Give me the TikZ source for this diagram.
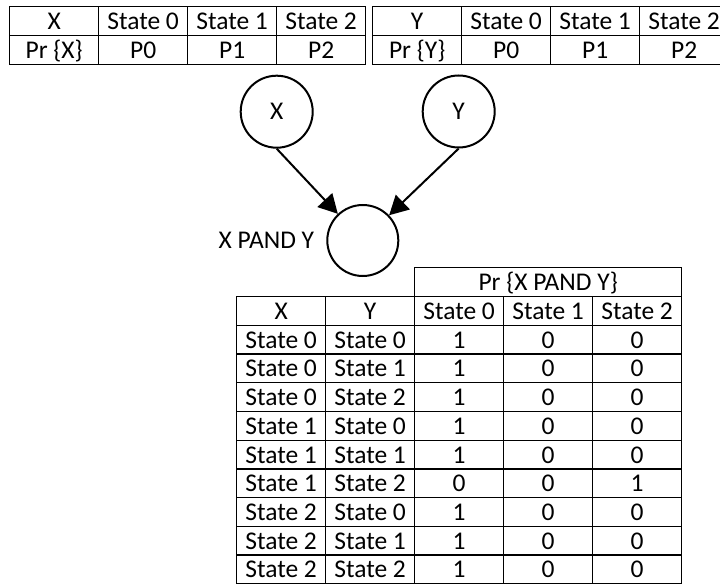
\documentclass[tikz,border=0pt]{standalone}
\usepackage{fontspec}
\setmainfont{Carlito}
\usetikzlibrary{positioning,matrix,arrows.meta}
\tikzset{
    cell/.style={draw,line width=1.3pt,minimum width=\cw,minimum height=29pt,inner sep=0pt,outer sep=0pt,anchor=center,text height=18pt,text depth=1pt},
    tab/.style={matrix of nodes,nodes={cell},column sep=-1.3pt,row sep=-1.3pt,inner sep=0pt,outer sep=0pt},
    var/.style={circle,draw,line width=2pt,minimum size=72pt,inner sep=0pt,text depth=-3pt},
    arc/.style={line width=2pt,-{Triangle[length=19pt,width=20pt]}}
}
\def\cw{89pt}

\begin{document}
\begin{tikzpicture}[x=1pt,y=-1pt,font=\fontsize{25.5}{30}\selectfont]
  \useasboundingbox (0,0) rectangle (720,585);

  % Prior tables
  \matrix[tab,anchor=north west] (xtab) at (9,6) {
    X & State 0 & State 1 & State 2 \\
    Pr \{X\} & P0 & P1 & P2 \\
  };
  \matrix[tab,anchor=north west] (ytab) at (372,6) {
    Y & State 0 & State 1 & State 2 \\
    Pr \{Y\} & P0 & P1 & P2 \\
  };

  % Nodes
  \node[var] (X) at (276.7,111.7) {X};
  \node[var] (Y) at (458.7,111.5) {Y};
  \node[var,minimum size=71pt] (XY) at (362.8,240.5) {};
  \node[inner sep=0pt,left=12pt of XY] (xylabel) {X PAND Y};

  % Edges
  \draw[arc] (X.south) -- (XY);
  \draw[arc] (Y.south) -- (XY);

  % Conditional table
  \matrix[tab,nodes={minimum height=28.7pt},anchor=north west] (ptab) at (236,296) {
    X & Y & State 0 & State 1 & State 2 \\
    State 0 & State 0 & 1 & 0 & 0 \\
    State 0 & State 1 & 1 & 0 & 0 \\
    State 0 & State 2 & 1 & 0 & 0 \\
    State 1 & State 0 & 1 & 0 & 0 \\
    State 1 & State 1 & 1 & 0 & 0 \\
    State 1 & State 2 & 0 & 0 & 1 \\
    State 2 & State 0 & 1 & 0 & 0 \\
    State 2 & State 1 & 1 & 0 & 0 \\
    State 2 & State 2 & 1 & 0 & 0 \\
  };
  \node[cell,minimum width=267pt,anchor=south west] (prhead) at (ptab-1-3.north west) {Pr \{X PAND Y\}};
\end{tikzpicture}
\end{document}
